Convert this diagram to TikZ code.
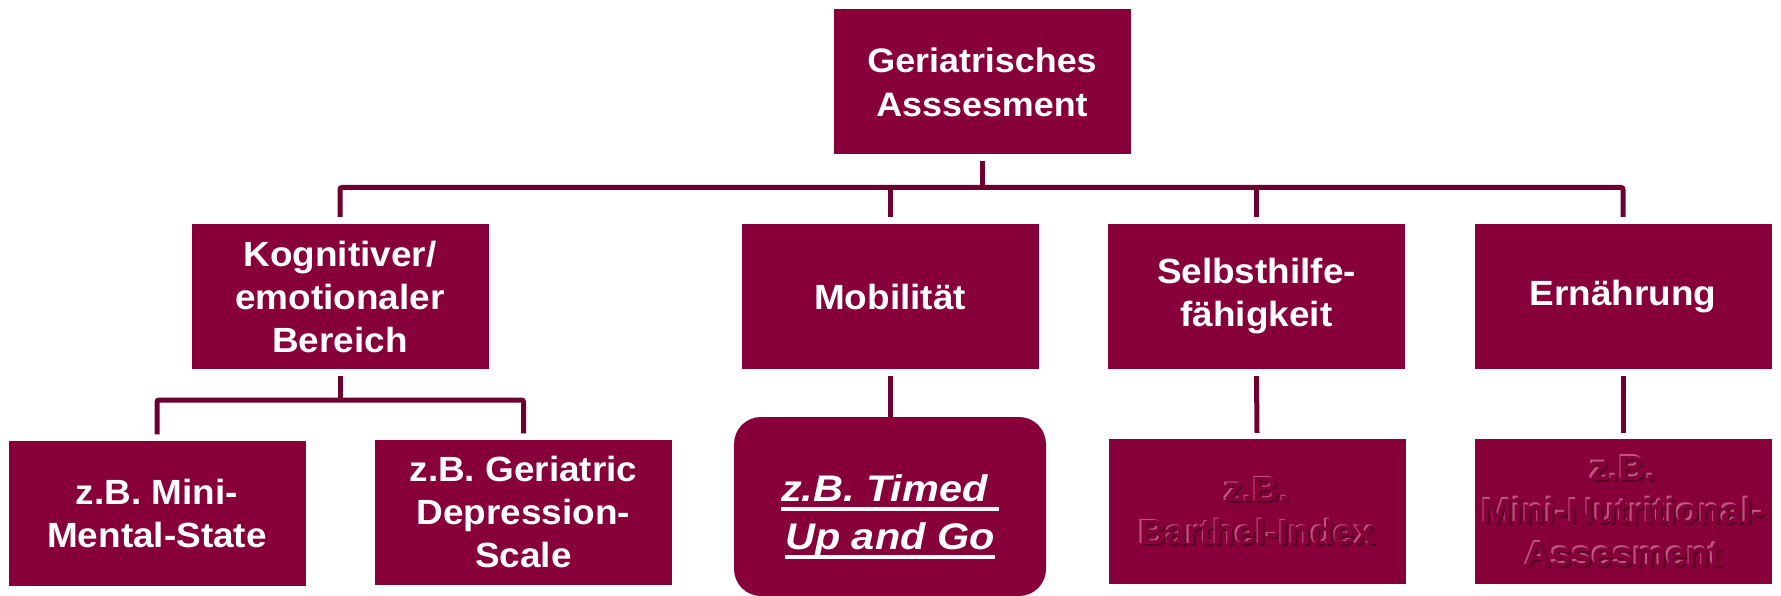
\documentclass[tikz,border=0pt]{standalone}
\usepackage{fontspec}
\setmainfont{Liberation Sans}[FakeStretch=1.055]
\newfontfamily\widefont{Liberation Sans}[FakeStretch=1.12]
\usetikzlibrary{calc}

\definecolor{boxred}{RGB}{135,0,58}
\definecolor{linered}{RGB}{110,0,48}
\definecolor{embhi}{RGB}{190,88,130}
\definecolor{emblo}{RGB}{88,0,34}

% thick underline that runs under the whole line, trailing space included
\newcommand\ulinebox[1]{\setbox0\hbox{#1}\rlap{\rule[-9pt]{\wd0}{4pt}}\box0}
% embossed line: light edge up-left, dark edge down-right, face in box colour
\newcommand\embossline[1]{\setbox0\hbox{#1}%
  \rlap{\hspace*{-1.5pt}\raisebox{1.5pt}{\textcolor{embhi}{\copy0}}}%
  \rlap{\hspace*{2pt}\raisebox{-2pt}{\textcolor{emblo}{\copy0}}}%
  \textcolor{boxred}{\box0}}

\tikzset{
  box/.style={fill=boxred, text=white, align=center, inner sep=0pt,
    minimum width=297pt, minimum height=145pt,
    font=\fontsize{35}{43}\selectfont\bfseries},
  roundbox/.style={fill=boxred, rounded corners=27pt, inner sep=0pt,
    minimum width=312pt, minimum height=179pt},
  roundtext/.style={text=white, align=center, inner sep=0pt,
    font=\widefont\fontsize{37}{48}\selectfont\bfseries\itshape},
  conn/.style={draw=linered, line width=5pt, rounded corners=2pt},
}

\begin{document}
\begin{tikzpicture}[x=1pt,y=-1pt]
\useasboundingbox (0,0) rectangle (1781,596);

% root
\node[box, font=\fontsize{34}{44}\selectfont\bfseries] (top) at (982,82) {Geriatrisches\\Asssesment};

% domains
\node[box] (kog) at (340,296.5) {Kognitiver/\\emotionaler\\Bereich};
\node[box] (mob) at (890,296.5) {Mobilität};
\node[box] (sel) at (1256.5,296.5) {Selbsthilfe-\\fähigkeit};
\node[box] (ern) at (1623,296.5) {Ernährung};

% instruments
\node[box] (mms) at (157,513) {z.B. Mini-\\Mental-State};
\node[box] (gds) at (523.5,512) {z.B. Geriatric\\Depression-\\Scale};
\node[roundbox] (tug) at (890,506.5) {};
\node[roundtext] (tug-tx) at (890,517) {\ulinebox{z.B. Timed\ }\\\ulinebox{Up and Go}};
\node[box] (bar) at (1257,511.5) {\embossline{z.B.}\\\embossline{Barthel-Index}};
\node[box] (mna) at (1623,511.5) {\embossline{z.B.}\\\embossline{Mini-Nutritional-}\\\embossline{Assesment}};

% connectors
\coordinate (mainbar) at (982,187.5);
\coordinate (subbar) at (340,400);

\draw[conn] ([yshift=-6pt]top.south) -- (top.south |- mainbar);
\draw[conn] ([yshift=7pt]kog.north) |- (mainbar) -| ([yshift=7pt]ern.north);
\draw[conn] (mob.north |- mainbar) -- ([yshift=7pt]mob.north);
\draw[conn] (sel.north |- mainbar) -- ([yshift=7pt]sel.north);

\draw[conn] ([yshift=-7pt]kog.south) -- (subbar);
\draw[conn] ([yshift=6pt]mms.north) |- (subbar) -| ([yshift=6pt]gds.north);

\draw[conn] ([yshift=-7pt]mob.south) -- (tug.north);
\draw[conn] ([yshift=-7pt]sel.south) -- ([yshift=6pt]bar.north);
\draw[conn] ([yshift=-7pt]ern.south) -- ([yshift=6pt]mna.north);
\end{tikzpicture}
\end{document}
